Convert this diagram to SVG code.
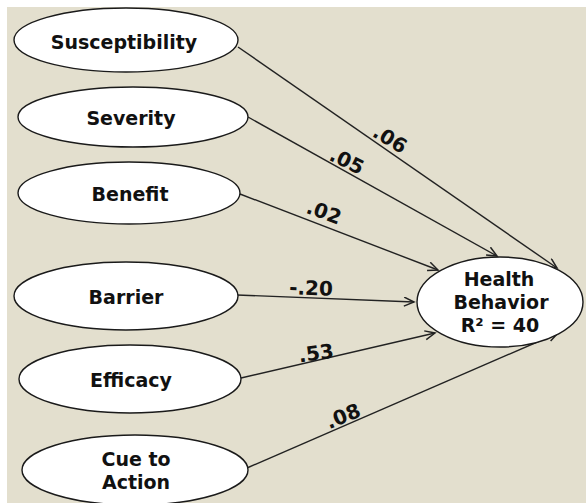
<svg xmlns="http://www.w3.org/2000/svg" width="586" height="503" viewBox="0 0 586 503">
<defs>
<style>
.node ellipse{fill:#fff;stroke:#1a1a1a;stroke-width:1.4}
.lbl{font-family:"DejaVu Sans",Verdana,sans-serif;font-weight:bold;font-size:19px;fill:#111;text-anchor:middle}
.edge line{stroke:#222;stroke-width:1.4;fill:none;marker-end:url(#arr)}
.w{font-family:"DejaVu Sans",Verdana,sans-serif;font-weight:bold;font-size:20px;fill:#111;text-anchor:middle}
</style>
<marker id="arr" markerUnits="userSpaceOnUse" markerWidth="14" markerHeight="12" refX="11" refY="5" orient="auto">
<path d="M1,0.5 L11,5 L1,9.5" fill="none" stroke="#222" stroke-width="1.5"/>
</marker>
</defs>
<rect x="0" y="0" width="586" height="503" fill="#fff"/>
<rect x="7" y="7" width="579" height="496" fill="#E3DFCE"/>
<g id="connectors" class="edge">
<line x1="238" y1="47" x2="557" y2="268"/>
<line x1="248" y1="117" x2="497" y2="256"/>
<line x1="240" y1="194" x2="438" y2="270"/>
<line x1="237" y1="295" x2="414" y2="302"/>
<line x1="241" y1="378" x2="435" y2="333"/>
<line x1="247" y1="468" x2="558" y2="333"/>
</g>
<g id="weights">
<text class="w" transform="translate(390,139) rotate(31)" y="7">.06</text>
<text class="w" transform="translate(347,161) rotate(26)" y="7">.05</text>
<text class="w" transform="translate(324,212) rotate(20)" y="7">.02</text>
<text class="w" transform="translate(311,288) rotate(2)" y="7">-.20</text>
<text class="w" transform="translate(316,353) rotate(-8)" y="7">.53</text>
<text class="w" transform="translate(343,416) rotate(-22)" y="7">.08</text>
</g>
<g id="susceptibility" class="node"><ellipse cx="126" cy="40" rx="112" ry="32"/><text class="lbl" x="124" y="49">Susceptibility</text></g>
<g id="severity" class="node"><ellipse cx="133" cy="117" rx="115" ry="30"/><text class="lbl" x="131" y="125">Severity</text></g>
<g id="benefit" class="node"><ellipse cx="129" cy="193" rx="111" ry="31"/><text class="lbl" x="130" y="201">Benefit</text></g>
<g id="barrier" class="node"><ellipse cx="126" cy="296" rx="112" ry="34"/><text class="lbl" x="126" y="304">Barrier</text></g>
<g id="efficacy" class="node"><ellipse cx="130" cy="379" rx="111" ry="34"/><text class="lbl" x="131" y="387">Efficacy</text></g>
<g id="cue" class="node"><ellipse cx="135" cy="470" rx="113" ry="35"/><text class="lbl" x="136" y="466">Cue to</text><text class="lbl" x="136" y="489">Action</text></g>
<g id="health" class="node"><ellipse cx="500" cy="302" rx="83" ry="45"/><text class="lbl" x="499" y="286">Health</text><text class="lbl" x="501" y="309">Behavior</text><text class="lbl" x="500" y="332">R² = 40</text></g>
</svg>
